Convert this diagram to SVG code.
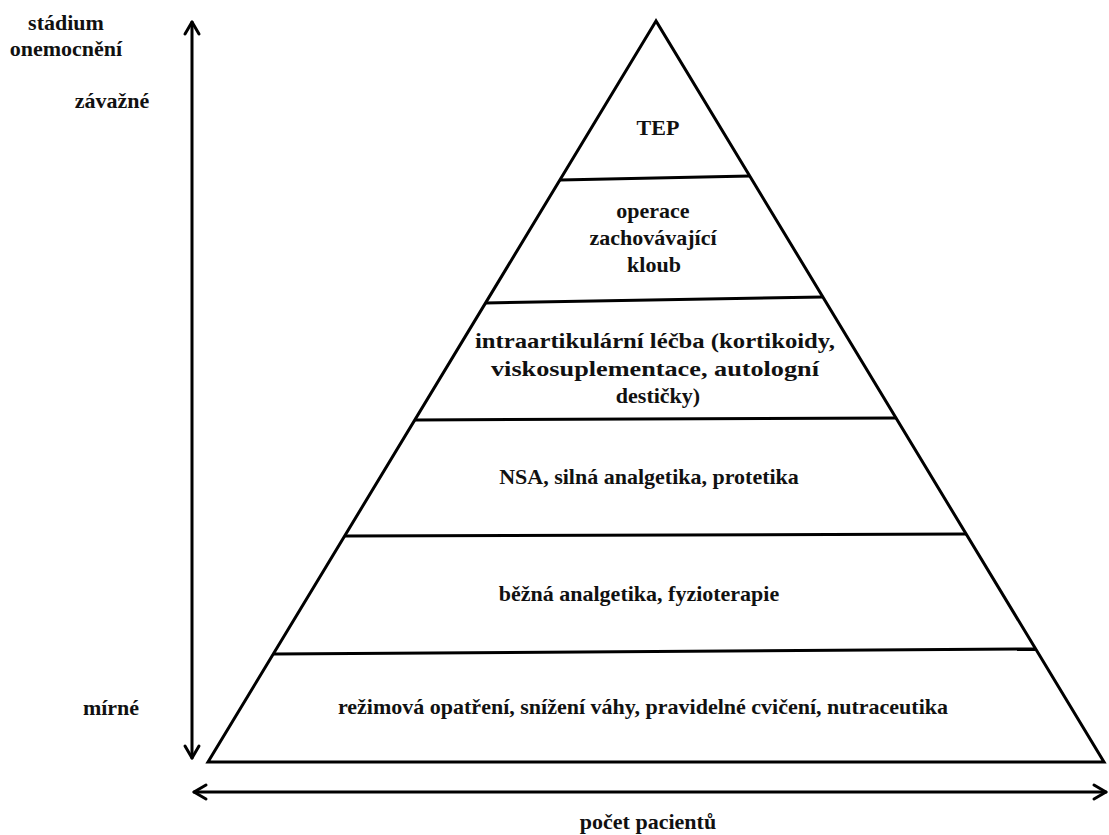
<svg xmlns="http://www.w3.org/2000/svg" width="1109" height="835" viewBox="0 0 1109 835">
<style>
.ln{stroke:#000;stroke-width:3;fill:none}
.ax{stroke:#000;stroke-width:3;fill:none;stroke-linecap:round;stroke-linejoin:round}
</style>
<rect width="1109" height="835" fill="#fff"/>
<g id="axes">
<g id="axis-y">
<line class="ax" x1="192" y1="22" x2="192" y2="758"/>
<polyline class="ax" points="185,34 192,22 199,34"/>
<polyline class="ax" points="185,746 192,758 199,746"/>
</g>
<g id="axis-x">
<line class="ax" x1="194" y1="792" x2="1106" y2="792"/>
<polyline class="ax" points="206,785 194,792 206,799"/>
<polyline class="ax" points="1094,785 1106,792 1094,799"/>
</g>
</g>
<g id="pyramid">
<polygon class="ln" points="656,21 208,762 1104,762"/>
</g>
<g id="connectors">
<line class="ln" x1="560" y1="180" x2="750" y2="176"/>
<line class="ln" x1="485" y1="303" x2="823" y2="297"/>
<line class="ln" x1="415" y1="420" x2="896" y2="418"/>
<line class="ln" x1="345" y1="536" x2="966" y2="534"/>
<line class="ln" x1="274" y1="654" x2="1035" y2="649"/>
</g>
<g id="labels" font-family="Liberation Serif" font-size="22" font-weight="bold" fill="#111" text-anchor="middle">
<g id="level-6"><text x="658" y="135">TEP</text></g>
<g id="level-5"><text x="653" y="218">operace</text><text x="653" y="245">zachovávající</text><text x="654" y="272">kloub</text></g>
<g id="level-4"><text x="655" y="348" textLength="360" lengthAdjust="spacingAndGlyphs">intraartikulární léčba (kortikoidy,</text><text x="655" y="376" textLength="328" lengthAdjust="spacingAndGlyphs">viskosuplementace, autologní</text><text x="658" y="403">destičky)</text></g>
<g id="level-3"><text x="649" y="484">NSA, silná analgetika, protetika</text></g>
<g id="level-2"><text x="639" y="601">běžná analgetika, fyzioterapie</text></g>
<g id="level-1"><text x="643" y="714">režimová opatření, snížení váhy, pravidelné cvičení, nutraceutika</text></g>
<g id="label-stadium"><text x="66" y="30">stádium</text><text x="66" y="56">onemocnění</text></g>
<g id="label-zavazne"><text x="112" y="108">závažné</text></g>
<g id="label-mirne"><text x="111" y="715">mírné</text></g>
<g id="label-pocet"><text x="648" y="829">počet pacientů</text></g>
</g>
</svg>
